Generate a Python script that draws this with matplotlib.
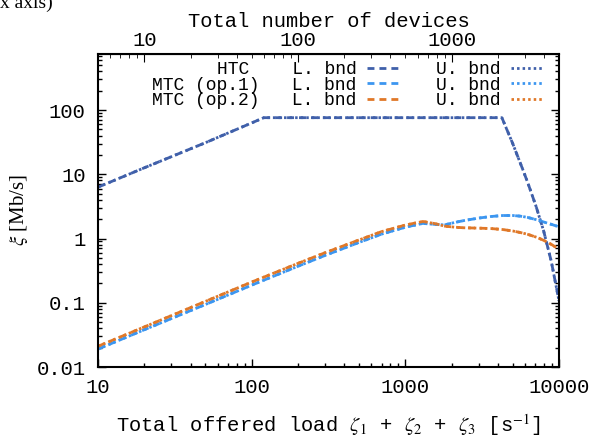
import matplotlib
matplotlib.use('Agg')
import matplotlib.pyplot as plt
from matplotlib.ticker import FixedLocator, LogLocator, NullFormatter, FuncFormatter

# data
htc_load = [10, 20, 50, 100, 120, 500, 1000, 2000, 4250, 5000, 5850, 6300, 7080, 7940, 8910, 10000]
htc_lower = [6.3, 12.6, 31, 63, 76, 76, 76, 76, 76, 30, 11.4, 7.1, 3.2, 1.32, 0.44, 0.107]
htc_upper = [6.3, 12.6, 31, 63, 76, 76, 76, 76, 76, 30, 11.4, 7.1, 3.2, 1.32, 0.44, 0.107]

mtc_load = [10, 20, 50, 100, 200, 300, 500, 700, 1000, 1300, 1550, 1800, 2100, 2400,
            3000, 3600, 4300, 5000, 5600, 6200, 7200, 8000, 9000, 10000]
op1_lower = [0.019, 0.038, 0.094, 0.188, 0.37, 0.545, 0.87, 1.17, 1.50, 1.72, 1.66, 1.63,
             1.78, 1.90, 2.08, 2.20, 2.28, 2.28, 2.23, 2.14, 1.95, 1.80, 1.65, 1.52]
op1_upper = op1_lower
op2_lower = [0.021, 0.042, 0.105, 0.21, 0.41, 0.60, 0.95, 1.28, 1.62, 1.84, 1.71, 1.56,
             1.50, 1.47, 1.45, 1.43, 1.38, 1.31, 1.24, 1.17, 1.04, 0.93, 0.80, 0.68]
op2_upper = op2_lower

bottom_ticks = [10, 100, 1000, 10000]
top_ticks = [10, 100, 1000]
y_ticks = [0.01, 0.1, 1, 10, 100]

c_htc = '#4060aa'
c_op1 = '#3c96f0'
c_op2 = '#e07828'

mono = 'Liberation Mono'
plt.rcParams['font.family'] = [mono, 'DejaVu Sans']
plt.rcParams['mathtext.fontset'] = 'stix'

fig = plt.figure(figsize=(5.99, 4.40), dpi=100)
ax = fig.add_axes([98 / 599, 73 / 440, 461 / 599, 313 / 440])

dash = (0, (2.5, 1.8))
dot = (0, (0.9, 1.1))
lw = 2.0

hL1, = ax.plot(htc_load, htc_lower, color=c_htc, lw=lw, linestyle=dash)
hL2, = ax.plot(mtc_load, op1_lower, color=c_op1, lw=lw, linestyle=dash)
hL3, = ax.plot(mtc_load, op2_lower, color=c_op2, lw=lw, linestyle=dash)
hU1, = ax.plot(htc_load, htc_upper, color=c_htc, lw=lw, linestyle=dot)
hU2, = ax.plot(mtc_load, op1_upper, color=c_op1, lw=lw, linestyle=dot)
hU3, = ax.plot(mtc_load, op2_upper, color=c_op2, lw=lw, linestyle=dot)

ax.set_xscale('log')
ax.set_yscale('log')
ax.set_xlim(10, 10000)
ax.set_ylim(0.01, 745)

fmt = FuncFormatter(lambda v, p: '%g' % v)
ax.xaxis.set_major_locator(FixedLocator(bottom_ticks))
ax.xaxis.set_major_formatter(fmt)
ax.xaxis.set_minor_locator(LogLocator(base=10, subs=range(2, 10)))
ax.xaxis.set_minor_formatter(NullFormatter())
ax.yaxis.set_major_locator(FixedLocator(y_ticks))
ax.yaxis.set_major_formatter(fmt)
ax.yaxis.set_minor_locator(LogLocator(base=10, subs=range(2, 10)))
ax.yaxis.set_minor_formatter(NullFormatter())

ax.tick_params(which='both', direction='in', right=True, labelsize=14.8, width=1.0)
ax.tick_params(which='major', length=6)
ax.tick_params(which='minor', length=3)
ax.tick_params(axis='y', pad=9)
ax.tick_params(axis='x', pad=8)
for s in ax.spines.values():
    s.set_linewidth(1.5)

top = ax.secondary_xaxis('top', functions=(lambda x: x / 2, lambda x: x * 2))
top.xaxis.set_major_locator(FixedLocator(top_ticks))
top.xaxis.set_major_formatter(fmt)
top.xaxis.set_minor_locator(LogLocator(base=10, subs=range(2, 10)))
top.xaxis.set_minor_formatter(NullFormatter())
top.tick_params(which='both', direction='in', labelsize=14.8, pad=3)
top.tick_params(which='major', length=6)
top.tick_params(which='minor', length=3)
top.set_xlabel('Total number of devices', fontsize=14.8, labelpad=3)

ax.set_xlabel(r'Total offered load $\zeta_1$ + $\zeta_2$ + $\zeta_3$ [s$^{-1}$]',
              fontsize=14.8, labelpad=11)
ax.set_ylabel(r'$\xi$ [Mb/s]', fontsize=15, family='Liberation Serif', labelpad=5)

ax.legend(handles=[hL1, hL2, hL3, hU1, hU2, hU3],
          labels=['HTC    L. bnd', 'MTC (op.1)   L. bnd', 'MTC (op.2)   L. bnd',
                  'U. bnd', 'U. bnd', 'U. bnd'],
          ncol=2, markerfirst=False, frameon=False, loc='upper right',
          bbox_to_anchor=(0.983, 1.0), borderaxespad=0.0, handlelength=1.8,
          handletextpad=0.6, columnspacing=2.0, labelspacing=-0.08,
          prop={'family': mono, 'size': 13})

fig.text(0.0, 1 - 8 / 440, 'x axis)', family='Liberation Serif', fontsize=14,
         va='baseline', ha='left')

fig.savefig('out.png', dpi=100)
